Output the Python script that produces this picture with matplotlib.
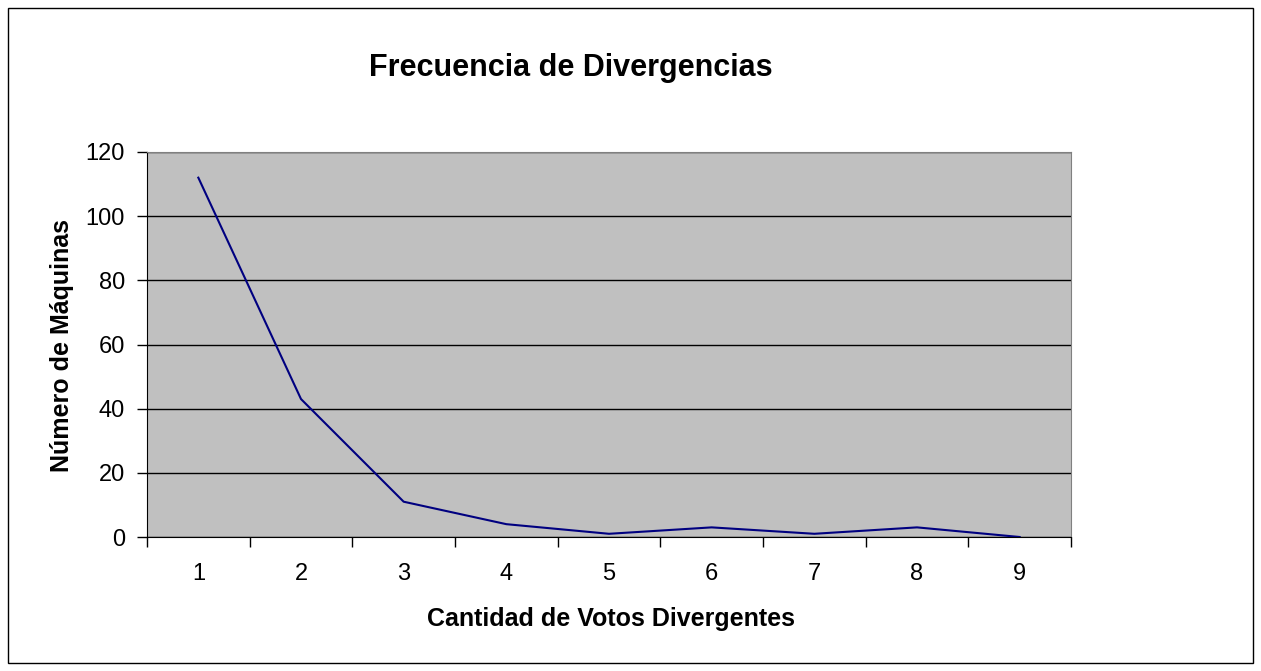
import numpy as np
import matplotlib.pyplot as plt
from matplotlib.patches import Rectangle

plt.rcParams['font.family'] = ['Liberation Sans', 'DejaVu Sans']

# data
categorias = ["1", "2", "3", "4", "5", "6", "7", "8", "9"]
maquinas = [112, 43, 11, 4, 1, 3, 1, 3, 0]
y_ticks = [0, 20, 40, 60, 80, 100, 120]

fig = plt.figure(figsize=(12.61, 6.71), dpi=100)

# outer chart border
fig.patches.append(Rectangle((8 / 1261, 8 / 671), 1245 / 1261, 655 / 671,
                             transform=fig.transFigure, fill=False,
                             edgecolor="black", linewidth=1))

ax = fig.add_axes([147 / 1261, 1 - 537 / 671, 924 / 1261, 385 / 671])
ax.set_facecolor("#C0C0C0")

x = np.arange(len(categorias))
ax.plot(x, maquinas, color="#000080", linewidth=1.5, zorder=3)

ax.set_xlim(-0.5, len(categorias) - 0.5)
ax.set_ylim(0, 120)

# y axis
ax.set_yticks(y_ticks)
ax.yaxis.grid(True, color="black", linewidth=1)
ax.set_axisbelow(True)
ax.tick_params(axis="y", labelsize=17, length=7, width=1, pad=9)

# x axis: ticks at bin edges, labels at centers
ax.set_xticks(np.arange(-0.5, len(categorias)), labels=[""] * (len(categorias) + 1))
ax.set_xticks(x, labels=categorias, minor=True)
ax.tick_params(axis="x", which="major", length=7, width=1)
ax.tick_params(axis="x", which="minor", length=0, labelsize=17, pad=19)

for side in ["top", "right"]:
    ax.spines[side].set_color("#808080")
ax.spines["left"].set_color("black")
ax.spines["bottom"].set_color("black")

fig.text(571 / 1261, 1 - 68 / 671, "Frecuencia de Divergencias",
         ha="center", va="center", fontsize=22, fontweight="bold")
fig.text(611 / 1261, 1 - 619 / 671, "Cantidad de Votos Divergentes",
         ha="center", va="center", fontsize=18, fontweight="bold")
fig.text(62 / 1261, 1 - 345 / 671, "Número de Máquinas", rotation=90,
         ha="center", va="center", fontsize=18, fontweight="bold")

fig.savefig("out.png", dpi=100)
